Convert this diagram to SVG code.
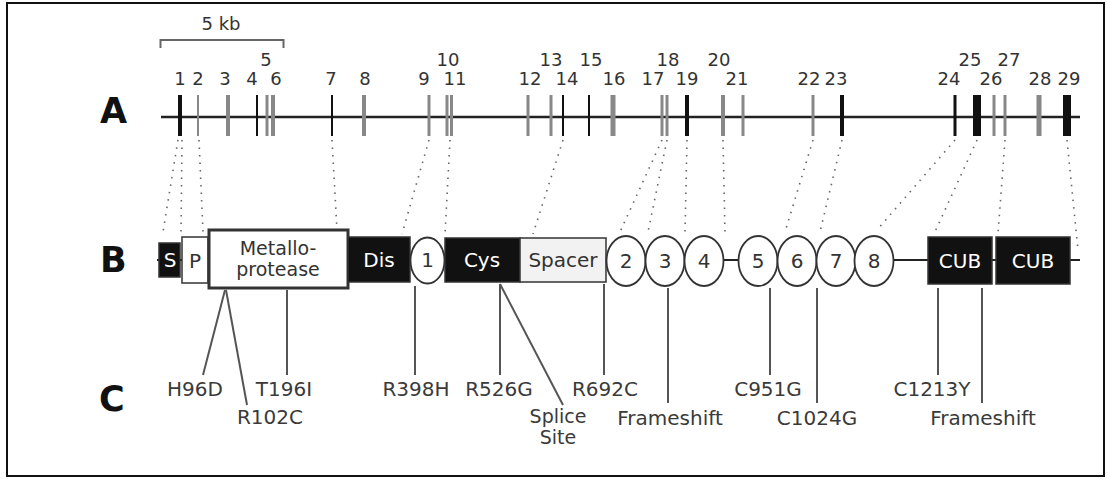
<svg xmlns="http://www.w3.org/2000/svg" width="1107" height="479" viewBox="0 0 1107 479">
<style>
text{font-family:"DejaVu Sans","Liberation Sans",sans-serif;}
.row{font-size:35px;font-weight:bold;fill:#111;}
.ex{font-size:18px;fill:#333;text-anchor:middle;}
.lab{font-size:20px;fill:#3a3a3a;text-anchor:middle;}
.dw{font-size:20px;fill:#fff;text-anchor:middle;}
.dk{font-size:20px;fill:#333;text-anchor:middle;}
.bg{fill:#888;}
.bk{fill:#111;}
.dot{stroke:#666;stroke-width:1.6;stroke-dasharray:1.5 6;fill:none;}
.mut{stroke:#555;stroke-width:2;fill:none;}
.box{stroke:#333;stroke-width:1.5;}
.circ{fill:#fff;stroke:#333;stroke-width:1.8;}
</style>
<rect x="7" y="3" width="1097" height="473" fill="#fff" stroke="#111" stroke-width="2"/>

<g id="scale">
<text x="221" y="30" class="ex">5 kb</text>
<path d="M160.5,48 V40 H283.5 V48" fill="none" stroke="#666" stroke-width="2"/>
</g>

<g id="row-labels">
<text x="100" y="123" class="row">A</text>
<text x="100" y="272" class="row">B</text>
<text x="99" y="411" class="row">C</text>
</g>

<g id="gene">
<line x1="161" y1="117" x2="1080" y2="117" stroke="#222" stroke-width="2.5"/>
<g id="exons">
<rect class="bk" x="178" y="95" width="4" height="41"/>
<rect class="bg" x="197" y="95" width="2" height="41"/>
<rect class="bg" x="226" y="95" width="4" height="41"/>
<rect class="bk" x="256" y="95" width="2" height="41"/>
<rect class="bg" x="265.5" y="95" width="3" height="41"/>
<rect class="bg" x="271" y="95" width="4" height="41"/>
<rect class="bk" x="331" y="95" width="2" height="41"/>
<rect class="bg" x="362" y="95" width="4" height="41"/>
<rect class="bg" x="427.5" y="95" width="3" height="41"/>
<rect class="bg" x="445.5" y="95" width="3" height="41"/>
<rect class="bg" x="450" y="95" width="3" height="41"/>
<rect class="bg" x="526.5" y="95" width="3" height="41"/>
<rect class="bg" x="549.5" y="95" width="3" height="41"/>
<rect class="bk" x="562" y="95" width="2" height="41"/>
<rect class="bk" x="588" y="95" width="2" height="41"/>
<rect class="bg" x="610.5" y="95" width="5" height="41"/>
<rect class="bg" x="660.5" y="95" width="3" height="41"/>
<rect class="bg" x="665.5" y="95" width="3" height="41"/>
<rect class="bk" x="685" y="95" width="4" height="41"/>
<rect class="bg" x="721" y="95" width="4" height="41"/>
<rect class="bg" x="741.5" y="95" width="3" height="41"/>
<rect class="bg" x="811.5" y="95" width="3" height="41"/>
<rect class="bk" x="840" y="95" width="4" height="41"/>
<rect class="bk" x="953.5" y="95" width="3" height="41"/>
<rect class="bk" x="973" y="95" width="8" height="41"/>
<rect class="bg" x="992.5" y="95" width="3" height="41"/>
<rect class="bg" x="1003.5" y="95" width="3" height="41"/>
<rect class="bg" x="1036.5" y="95" width="5" height="41"/>
<rect class="bk" x="1063" y="95" width="8" height="41"/>
</g>
<g id="exon-numbers">
<text class="ex" x="180" y="85">1</text>
<text class="ex" x="198" y="85">2</text>
<text class="ex" x="225" y="85">3</text>
<text class="ex" x="252" y="85">4</text>
<text class="ex" x="266" y="66">5</text>
<text class="ex" x="276" y="85">6</text>
<text class="ex" x="331" y="85">7</text>
<text class="ex" x="365" y="85">8</text>
<text class="ex" x="424" y="85">9</text>
<text class="ex" x="448" y="66">10</text>
<text class="ex" x="455" y="85">11</text>
<text class="ex" x="530" y="85">12</text>
<text class="ex" x="551" y="66">13</text>
<text class="ex" x="567" y="85">14</text>
<text class="ex" x="591" y="66">15</text>
<text class="ex" x="614" y="85">16</text>
<text class="ex" x="653" y="85">17</text>
<text class="ex" x="668" y="66">18</text>
<text class="ex" x="687" y="85">19</text>
<text class="ex" x="719" y="66">20</text>
<text class="ex" x="737" y="85">21</text>
<text class="ex" x="809" y="85">22</text>
<text class="ex" x="836" y="85">23</text>
<text class="ex" x="949" y="85">24</text>
<text class="ex" x="970" y="66">25</text>
<text class="ex" x="991" y="85">26</text>
<text class="ex" x="1009" y="66">27</text>
<text class="ex" x="1040" y="85">28</text>
<text class="ex" x="1069" y="85">29</text>
</g>
</g>

<g id="connectors">
<line class="dot" x1="178" y1="140" x2="163" y2="232"/>
<line class="dot" x1="182" y1="140" x2="181" y2="232"/>
<line class="dot" x1="199" y1="140" x2="203" y2="232"/>
<line class="dot" x1="332" y1="140" x2="337" y2="230"/>
<line class="dot" x1="429" y1="140" x2="402" y2="234"/>
<line class="dot" x1="450" y1="140" x2="445" y2="234"/>
<line class="dot" x1="563" y1="140" x2="533" y2="234"/>
<line class="dot" x1="662" y1="140" x2="620" y2="232"/>
<line class="dot" x1="667" y1="140" x2="648" y2="232"/>
<line class="dot" x1="687" y1="140" x2="685" y2="232"/>
<line class="dot" x1="723" y1="140" x2="725" y2="232"/>
<line class="dot" x1="813" y1="140" x2="785" y2="232"/>
<line class="dot" x1="842" y1="140" x2="820" y2="232"/>
<line class="dot" x1="955" y1="140" x2="877" y2="230"/>
<line class="dot" x1="977" y1="140" x2="934" y2="234"/>
<line class="dot" x1="1005" y1="140" x2="998" y2="234"/>
<line class="dot" x1="1067" y1="140" x2="1078" y2="250"/>

<line class="mut" x1="225" y1="290" x2="203" y2="375"/>
<line class="mut" x1="226" y1="290" x2="247" y2="405"/>
<line class="mut" x1="287" y1="290" x2="287" y2="375"/>
<line class="mut" x1="415" y1="286" x2="415" y2="375"/>
<line class="mut" x1="500" y1="284" x2="500" y2="375"/>
<line class="mut" x1="500" y1="284" x2="563" y2="405"/>
<line class="mut" x1="604" y1="284" x2="604" y2="375"/>
<line class="mut" x1="668" y1="288" x2="668" y2="403"/>
<line class="mut" x1="770" y1="288" x2="770" y2="375"/>
<line class="mut" x1="817" y1="288" x2="817" y2="403"/>
<line class="mut" x1="938" y1="288" x2="938" y2="375" stroke-width="3.5"/>
<line class="mut" x1="982" y1="288" x2="982" y2="403"/>
</g>

<g id="protein">
<line x1="157" y1="260" x2="1080" y2="260" stroke="#222" stroke-width="2"/>
<g id="S"><rect class="box bk" x="159" y="243" width="21" height="34"/><text class="dw" x="170" y="267">S</text></g>
<g id="P"><rect class="box" fill="#fff" x="182" y="237" width="26" height="46"/><text class="dk" x="195" y="268">P</text></g>
<g id="metalloprotease"><rect fill="#fff" stroke="#333" stroke-width="3" x="209" y="230" width="139" height="58"/><text class="dk" x="278" y="255" style="font-size:19px">Metallo-</text><text class="dk" x="278" y="276" style="font-size:19px">protease</text></g>
<g id="Dis"><rect class="box bk" x="348" y="237" width="62" height="45"/><text class="dw" x="379" y="267">Dis</text></g>
<g id="tsr1"><ellipse class="circ" cx="427.5" cy="260.5" rx="17" ry="23"/><text class="dk" x="427.5" y="267">1</text></g>
<g id="Cys"><rect class="box bk" x="445" y="238" width="75" height="44"/><text class="dw" x="482" y="267">Cys</text></g>
<g id="Spacer"><rect class="box" fill="#f2f2f2" x="520" y="238" width="86" height="44"/><text class="dk" x="563" y="267">Spacer</text></g>
<g id="tsr2"><ellipse class="circ" cx="626" cy="261" rx="19.5" ry="25"/><text class="dk" x="626" y="268">2</text></g>
<g id="tsr3"><ellipse class="circ" cx="665" cy="261" rx="19.5" ry="25"/><text class="dk" x="665" y="268">3</text></g>
<g id="tsr4"><ellipse class="circ" cx="704" cy="261" rx="19.5" ry="25"/><text class="dk" x="704" y="268">4</text></g>
<g id="tsr5"><ellipse class="circ" cx="758" cy="261" rx="19.5" ry="25"/><text class="dk" x="758" y="268">5</text></g>
<g id="tsr6"><ellipse class="circ" cx="797" cy="261" rx="19.5" ry="25"/><text class="dk" x="797" y="268">6</text></g>
<g id="tsr7"><ellipse class="circ" cx="836" cy="261" rx="19.5" ry="25"/><text class="dk" x="836" y="268">7</text></g>
<g id="tsr8"><ellipse class="circ" cx="874" cy="261" rx="19.5" ry="25"/><text class="dk" x="874" y="268">8</text></g>
<g id="CUB1"><rect class="box bk" x="928" y="237" width="64" height="47"/><text class="dw" x="960" y="268">CUB</text></g>
<g id="CUB2"><rect class="box bk" x="996" y="237" width="74" height="47"/><text class="dw" x="1033" y="268">CUB</text></g>
</g>

<g id="mutations">
<text class="lab" x="195" y="396">H96D</text>
<text class="lab" x="270" y="424">R102C</text>
<text class="lab" x="284" y="396">T196I</text>
<text class="lab" x="416" y="396">R398H</text>
<text class="lab" x="499" y="396">R526G</text>
<text class="lab" x="558" y="423" style="font-size:19px">Splice</text>
<text class="lab" x="558" y="444" style="font-size:19px">Site</text>
<text class="lab" x="605" y="396">R692C</text>
<text class="lab" x="670" y="425">Frameshift</text>
<text class="lab" x="768" y="396">C951G</text>
<text class="lab" x="817" y="425">C1024G</text>
<text class="lab" x="932" y="396">C1213Y</text>
<text class="lab" x="983" y="425">Frameshift</text>
</g>
</svg>
